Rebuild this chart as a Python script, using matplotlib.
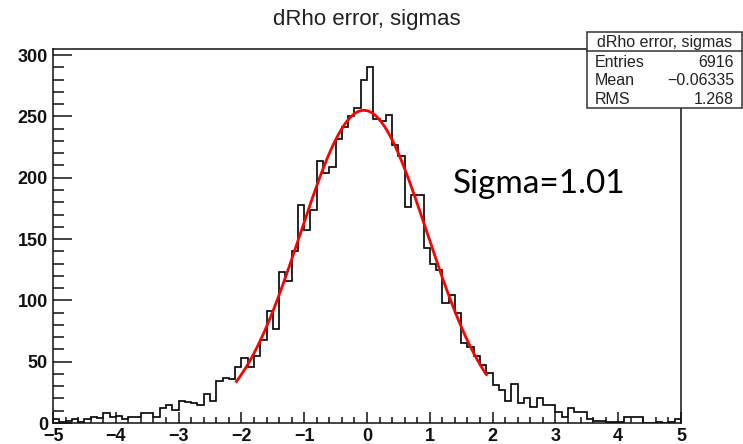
import numpy as np
import matplotlib
matplotlib.use('Agg')
import matplotlib.pyplot as plt
from matplotlib.patches import Rectangle
from matplotlib.lines import Line2D
from matplotlib.ticker import MultipleLocator

# histogram: 100 bins of width 0.1 between -5 and 5
bin_lo = -5.0
bin_hi = 5.0
counts = [
    3, 1, 2, 3, 1, 3, 5, 4, 8, 5,
    6, 3, 5, 5, 8, 8, 5, 12, 15, 11,
    18, 17, 16, 15, 24, 18, 34, 37, 36, 46,
    53, 46, 55, 68, 91, 77, 123, 116, 140, 178,
    157, 174, 214, 204, 209, 232, 241, 250, 257, 280,
    290, 248, 246, 251, 227, 218, 176, 186, 186, 143,
    130, 125, 98, 104, 90, 65, 62, 55, 47, 41,
    31, 27, 18, 32, 16, 20, 13, 20, 15, 15,
    9, 5, 12, 9, 9, 3, 2, 2, 1, 1,
    1, 5, 5, 5, 0, 0, 1, 0, 1, 3,
]

# gaussian fit parameters
fit_const = 255.0
fit_mean = -0.05
fit_sigma = 1.01
fit_lo = -2.08
fit_hi = 1.9

hist_title = 'dRho error, sigmas'
stats_names = ['Entries', 'Mean', 'RMS']
stats_values = ['6916', '\u22120.06335', '1.268']

W, H = 743, 444
fig = plt.figure(figsize=(W / 100, H / 100), dpi=100)
ax = fig.add_axes([53 / W, 1 - 423 / H, (681 - 53) / W, (423 - 49) / H])

edges = np.linspace(bin_lo, bin_hi, len(counts) + 1)
ax.stairs(counts, edges, color='black', lw=1.2)

xf = np.linspace(fit_lo, fit_hi, 300)
yf = fit_const * np.exp(-0.5 * ((xf - fit_mean) / fit_sigma) ** 2)
ax.plot(xf, yf, color='red', lw=2.0)

ax.set_xlim(bin_lo, bin_hi)
ax.set_ylim(0, 305)
ax.xaxis.set_major_locator(MultipleLocator(1))
ax.xaxis.set_minor_locator(MultipleLocator(0.2))
ax.yaxis.set_major_locator(MultipleLocator(50))
ax.yaxis.set_minor_locator(MultipleLocator(10))

ax.tick_params(which='both', direction='in', top=False, right=False, width=1.1, color='#111111')
ax.tick_params(axis='y', which='major', length=13.9, pad=3.6)
ax.tick_params(axis='y', which='minor', length=7.7)
ax.tick_params(axis='x', which='major', length=7.6, pad=3.6)
ax.tick_params(axis='x', which='minor', length=4.0)
for lab in ax.get_xticklabels() + ax.get_yticklabels():
    lab.set_fontfamily('Liberation Sans')
    lab.set_fontweight('bold')
    lab.set_fontsize(13)
    lab.set_color('#111111')
for sp in ax.spines.values():
    sp.set_linewidth(1.1)
    sp.set_color('#111111')

fig.text(367 / W, 1 - 25 / H, hist_title, ha='center', va='baseline',
         fontsize=16, family='Liberation Sans', color='#222222')

# stats box
bx0, bx1 = 587 / W, 742 / W
by0, by1 = 1 - 108 / H, 1 - 32 / H
fig.add_artist(Rectangle((bx0, by0), bx1 - bx0, by1 - by0, transform=fig.transFigure,
                         facecolor='white', edgecolor='#333333', lw=1.1, zorder=5))
fig.add_artist(Line2D([bx0, bx1], [1 - 51 / H, 1 - 51 / H], transform=fig.transFigure,
                      color='#333333', lw=1.1, zorder=6))
fig.text((bx0 + bx1) / 2, 1 - 42 / H, hist_title, ha='center', va='center',
         fontsize=11.5, family='Liberation Sans', color='#222222', zorder=7)
for i, (name, val) in enumerate(zip(stats_names, stats_values)):
    yy = 1 - (62.5 + 18.3 * i) / H
    fig.text(595 / W, yy, name, ha='left', va='center', fontsize=11.5,
             family='Liberation Sans', color='#222222', zorder=7)
    fig.text(734 / W, yy, val, ha='right', va='center', fontsize=11.5,
             family='Liberation Sans', color='#222222', zorder=7)

fig.text(453 / W, 1 - 193 / H, 'Sigma=%.2f' % fit_sigma, ha='left', va='baseline',
         fontsize=24, family='Lato', color='black')

fig.savefig('out.png', dpi=100)
